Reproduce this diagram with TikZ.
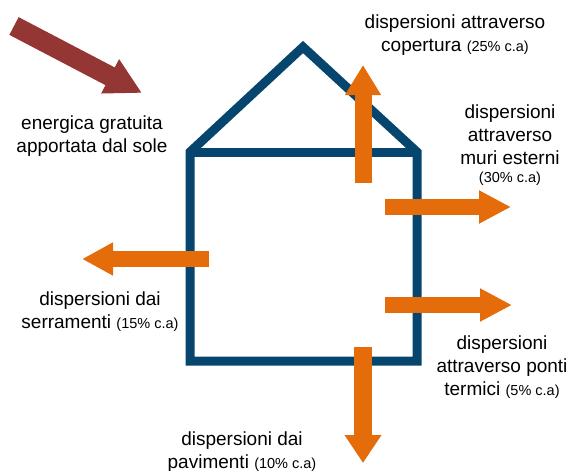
\documentclass[tikz,border=0pt]{standalone}
\usepackage{fontspec}
\setmainfont{Liberation Sans}
\usetikzlibrary{arrows.meta}

\definecolor{wallblue}{RGB}{6,70,110}
\definecolor{lossorange}{RGB}{228,108,10}
\definecolor{sunred}{RGB}{148,54,52}

\newcommand{\pct}[1]{{\fontsize{14.5}{17}\selectfont #1}}

\tikzset{
  loss/.style={draw=lossorange, line width=17pt, -{Triangle[width=34pt, length=30pt]}},
  note/.style={align=center, inner sep=0, outer sep=0, font=\fontsize{19}{23}\selectfont},
}

\begin{document}
\begin{tikzpicture}[x=1pt, y=-1pt]
  \useasboundingbox (0,0) rectangle (573,471);

  % house outline
  \coordinate (eaveL) at (190,152);
  \coordinate (apex) at (303,47);
  \coordinate (eaveR) at (417,152);
  \coordinate (footR) at (417,361);
  \coordinate (footL) at (190,361);
  \draw[wallblue, line width=9pt, line join=miter]
    (eaveL) -- (apex) -- (eaveR) -- (footR) -- (footL) -- cycle;
  \draw[wallblue, line width=9pt] (eaveL) -- (eaveR);

  % sun
  \coordinate (sunS) at (14,26);
  \coordinate (sunE) at (142,93);
  \draw[sunred, line width=20pt, -{Triangle[width=36pt, length=36pt]}] (sunS) -- (sunE);

  % losses
  \coordinate (roofS) at (363,183);
  \coordinate (roofE) at (363,65);
  \draw[loss] (roofS) -- (roofE);

  \coordinate (wallS) at (385,207);
  \coordinate (wallE) at (511,207);
  \draw[loss, -{Triangle[width=31pt, length=32pt]}, line width=16pt] (wallS) -- (wallE);

  \coordinate (bridgeS) at (385,305);
  \coordinate (bridgeE) at (512,305);
  \draw[loss, -{Triangle[width=31pt, length=32pt]}, line width=16pt] (bridgeS) -- (bridgeE);

  \coordinate (winS) at (209,259);
  \coordinate (winE) at (82,259);
  \draw[loss, -{Triangle[width=31pt, length=31pt]}, line width=16pt] (winS) -- (winE);

  \coordinate (floorS) at (363,347);
  \coordinate (floorE) at (363,463);
  \draw[loss, -{Triangle[width=35pt, length=28pt]}, line width=18pt] (floorS) -- (floorE);

  % texts
  \node[note] (sun) at (92,136) {energica gratuita\\apportata dal sole};
  \node[note] (roof) at (455,35) {dispersioni attraverso\\copertura \pct{(25\% c.a)}};
  \node[note] (wall) at (510,145) {dispersioni\\attraverso\\muri esterni\\[-5pt]\pct{(30\% c.a)}};
  \node[note] (win) at (100,312) {dispersioni dai\\serramenti \pct{(15\% c.a)}};
  \node[note] (bridge) at (502,367) {dispersioni\\attraverso ponti\\termici \pct{(5\% c.a)}};
  \node[note] (floor) at (242,452) {dispersioni dai\\pavimenti \pct{(10\% c.a)}};
\end{tikzpicture}
\end{document}
